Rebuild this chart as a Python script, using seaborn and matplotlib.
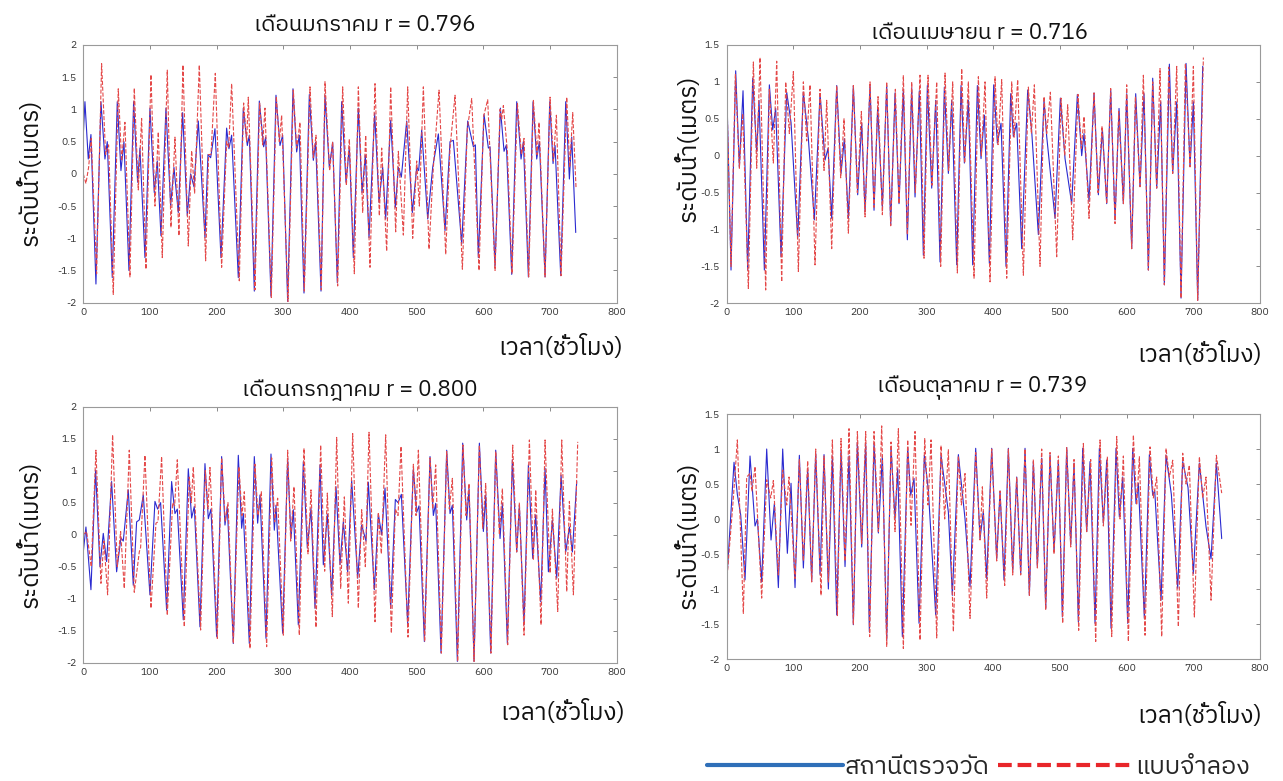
# plot.py - ระดับน้ำจากสถานีตรวจวัดเทียบกับแบบจำลอง (4 เดือน)

import matplotlib
matplotlib.use('Agg')
import matplotlib.pyplot as plt
from matplotlib.lines import Line2D
from matplotlib.ticker import FuncFormatter
from matplotlib import font_manager
import pandas as pd
import seaborn as sns
from fontTools.ttLib import TTFont

# ---------------- ข้อมูล (ชั่วโมง, ระดับน้ำ) อ่านจากกราฟต้นฉบับ ----------------
titles = ['เดือนมกราคม r = 0.796', 'เดือนเมษายน r = 0.716',
          'เดือนกรกฎาคม r = 0.800', 'เดือนตุลาคม r = 0.739']
legend_labels = ['สถานีตรวจวัด', 'แบบจำลอง']
x_label = 'เวลา(ชั่วโมง)'
y_label = 'ระดับน้ำ(เมตร)'
x_ticks = [0, 100, 200, 300, 400, 500, 600, 700, 800]
y_ticks_a = [-2, -1.5, -1, -0.5, 0, 0.5, 1, 1.5, 2]
y_ticks_b = [-2, -1.5, -1, -0.5, 0, 0.5, 1, 1.5]

jan_obs = [(0, 0.6), (2.5, 1.12), (7.5, 0.23), (11.5, 0.61), (19, -1.71), (26.5, 1.12), (32.5, 0.23), (36, 0.5),
           (43.5, -1.61), (51, 1.12), (56.5, 0.05), (61, 0.5), (68.5, -1.5), (75.5, 1.12), (81.5, -0.13), (85, 0.4),
           (92.5, -1.3), (100, 1.02), (106.5, -0.29), (111, 0.2), (116.5, -0.96), (124, 1.02), (131, -0.49),
           (136, 0.1), (142.5, -0.6), (149, 0.95), (156, -0.65), (161, 0.0), (166, -0.2), (172.5, 0.82),
           (182.5, -0.99), (187, 0.3), (191, 0.25), (197.5, 0.7), (206.5, -1.3), (215, 0.71), (218.5, 0.39),
           (222.5, 0.6), (232.5, -1.61), (240, 1.02), (246, 0.44), (249, 0.6), (256.5, -1.82), (264, 1.13),
           (270.5, 0.42), (273.5, 0.57), (281.5, -1.9), (289, 1.22), (295, 0.44), (299, 0.6), (306.5, -1.98),
           (314.5, 1.32), (320, 0.34), (324, 0.6), (331, -1.85), (339, 1.23), (345, 0.21), (348.5, 0.49),
           (356.5, -1.82), (362.5, 1.22), (369, 0.1), (374, 0.49), (381, -1.69), (387.5, 1.12), (394, -0.13),
           (399, 0.42), (405, -1.3), (412.5, 1.02), (418, -0.29), (423, 0.29), (428.5, -0.99), (437, 0.94),
           (443.5, -0.44), (449, 0.1), (453.5, -0.7), (461, 0.83), (468, -0.52), (472.5, 0.1), (477, -0.05),
           (485, 0.82), (493.5, -0.6), (500, 0.1), (503, 0.05), (507.5, 0.68), (516.5, -0.7), (524, 0.1),
           (532.5, 0.62), (542.5, -0.88), (550, 0.5), (555, 0.52), (567.5, -1.09), (576.5, 0.82), (585, 0.42),
           (588, 0.45), (592.5, -1.3), (601, 0.92), (607.5, 0.4), (610, 0.42), (617.5, -1.43), (625.5, 1.02),
           (631, 0.35), (634.5, 0.45), (642.5, -1.56), (650, 1.12), (656.5, 0.23), (660, 0.5), (667.5, -1.6),
           (674.5, 1.12), (680, 0.23), (684, 0.5), (692.5, -1.6), (699.5, 1.12), (704.5, 0.16), (707.5, 0.44),
           (716, -1.58), (723.5, 1.12), (729, -0.08), (732.5, 0.57), (738.5, -0.91)]

jan_mod = [(0, 0.0), (4, -0.15), (8, 0.1), (12, 0.55), (20, -1.55), (27.5, 1.71), (33.5, 0.3), (38, 0.45),
           (45, -1.87), (52.5, 1.32), (57.5, 0.2), (62.5, 0.8), (70, -1.6), (76.5, 1.33), (82.5, -0.25),
           (87.5, 0.86), (94, -1.48), (101.5, 1.54), (107.5, -0.5), (112.5, 0.65), (118.5, -1.3), (126, 1.61),
           (131.5, -0.83), (137.5, 0.57), (143.5, -0.96), (149.5, 1.69), (157.5, -1.12), (162.5, 0.36),
           (167, -0.3), (174, 1.69), (183.5, -1.35), (188, 0.3), (191.5, 0.3), (198, 1.56), (207.5, -1.45),
           (215, 0.5), (218, 0.4), (222.5, 1.4), (234, -1.66), (240.5, 1.1), (245, 0.5), (247.5, 1.19),
           (257.5, -1.8), (264.5, 1.1), (269, 0.45), (272.5, 1.02), (282, -1.92), (289.5, 1.2), (294, 0.5),
           (297.5, 0.91), (307, -1.98), (315, 1.3), (320, 0.4), (325, 0.8), (331.5, -1.82), (340, 1.35),
           (345, 0.25), (349, 0.6), (357, -1.8), (362.5, 1.43), (369.5, 0.05), (374, 0.5), (381.5, -1.74),
           (389, 1.35), (394.5, -0.18), (399, 0.54), (406.5, -1.55), (412.5, 1.35), (419, -0.6), (423.5, 0.6),
           (430, -1.45), (437.5, 1.4), (444, -0.65), (447.5, 0.4), (455, -1.2), (461, 1.35), (468.5, -0.9),
           (472.5, 0.35), (480, -0.95), (486.5, 1.35), (494, -1.0), (500, 0.2), (504, -0.5), (510, 1.35),
           (518.5, -1.17), (525, 0.1), (533.5, 1.3), (543.5, -1.25), (550, 0.4), (557.5, 1.22), (568.5, -1.48),
           (576, 0.7), (582.5, 1.17), (593.5, -1.5), (600.5, 0.9), (606.5, 1.15), (617.5, -1.5), (625, 1.0),
           (627.5, 0.85), (630, 1.06), (636, 0.35), (643, -1.55), (651, 1.1), (657, 0.3), (661, 0.55),
           (668, -1.6), (675, 1.14), (680.5, 0.3), (683.5, 0.8), (692.5, -1.6), (700, 1.19), (705, 0.2),
           (709.5, 0.91), (716.5, -1.58), (725, 1.19), (729.5, 0.1), (734, 0.95), (739, -0.23)]

apr_obs = [(0, 0.96), (6.5, -1.55), (13.5, 1.15), (19, -0.15), (24.5, 0.88), (31.5, -1.55), (39, 1.05),
           (45, 0.05), (48.5, 0.75), (56.5, -1.55), (64, 0.96), (69, 0.35), (73.5, 0.64), (81.5, -1.37),
           (90, 0.86), (96.5, 0.45), (106.5, -1.12), (115, 0.86), (122.5, 0.23), (131.5, -0.87), (140, 0.84),
           (147.5, -0.06), (152, 0.1), (157.5, -0.85), (165, 0.95), (171.5, -0.24), (176.5, 0.23),
           (182.5, -0.85), (190, 0.95), (196.5, -0.53), (202.5, 0.44), (207.5, -0.76), (215, 0.95), (221, -0.74),
           (226.5, 0.66), (233.5, -0.7), (240, 0.95), (246, -0.94), (252.5, 0.85), (258.5, -0.65), (265, 0.9),
           (271, -1.14), (277.5, 0.92), (282.5, -0.56), (289, 0.88), (295, -1.35), (301, 0.95), (307.5, -0.44),
           (313.5, 0.75), (320, -1.44), (326.5, 0.93), (332.5, -0.24), (337.5, 0.75), (345, -1.48),
           (351.5, 0.95), (356.5, -0.1), (362.5, 0.75), (369, -1.48), (376, 0.95), (381.5, -0.04), (386.5, 0.55),
           (394, -1.46), (400.5, 0.96), (406, 0.17), (411.5, 0.44), (419, -1.5), (426, 0.84), (430, 0.26),
           (435, 0.44), (442.5, -1.26), (451.5, 0.89), (457.5, 0.33), (467.5, -1.07), (476, 0.75), (480, 0.26),
           (492.5, -0.85), (500.5, 0.78), (507.5, -0.04), (517.5, -0.65), (526, 0.83), (532.5, 0.0), (536, 0.3),
           (543.5, -0.62), (551, 0.85), (557.5, -0.53), (563.5, 0.37), (570, -0.65), (576, 0.89), (582.5, -0.87),
           (588.5, 0.64), (595, -0.65), (600, 0.84), (607.5, -1.26), (613.5, 0.84), (620, -0.42), (626, 0.84),
           (632.5, -1.55), (639, 1.05), (645, -0.44), (651, 0.73), (656.5, -1.75), (664, 1.24), (669, -0.24),
           (675, 0.73), (681.5, -1.93), (689, 1.25), (695, -0.15), (700, 0.73), (706.5, -1.96), (714, 1.21)]

apr_mod = [(0, 0.9), (6.5, -1.5), (13, 1.1), (19, -0.17), (24, 0.57), (32.5, -1.8), (40, 1.27), (45, -0.17),
           (50, 1.33), (58.5, -1.82), (64, 0.9), (70, -0.1), (75, 1.28), (82.5, -1.71), (88.5, 1.0), (94, 0.3),
           (100, 1.14), (107.5, -1.57), (115, 1.0), (120, 0.2), (125, 0.96), (132.5, -1.48), (140, 0.9),
           (146, -0.2), (150, 0.75), (157.5, -1.26), (165, 0.95), (171, -0.3), (176, 0.5), (182.5, -1.05),
           (190, 0.95), (196, -0.5), (202, 0.6), (207.5, -0.83), (215, 1.0), (221, -0.7), (227, 0.8),
           (233.5, -0.8), (240, 1.0), (246, -0.95), (253, 0.9), (258.5, -0.65), (265, 1.09), (271, -1.07),
           (277.5, 1.0), (283, -0.5), (290, 1.09), (296, -1.39), (302, 1.09), (308, -0.4), (315, 1.0), (321, -1.5),
           (327.5, 1.12), (333, -0.2), (339, 1.0), (346, -1.59), (352.5, 1.18), (357, -0.1), (362.5, 1.0),
           (371, -1.66), (377.5, 1.07), (382, 0.0), (387.5, 1.0), (395, -1.71), (402.5, 1.07), (407, 0.15),
           (412.5, 1.03), (420, -1.66), (427.5, 1.0), (431, 0.25), (436.5, 1.03), (445, -1.62), (452.5, 0.93),
           (457, 0.3), (461.5, 0.96), (470, -1.5), (476, 0.8), (480, 0.3), (485.5, 0.86), (495, -1.37),
           (501.5, 0.78), (507, 0.0), (511.5, 0.69), (519, -1.14), (527, 0.83), (532, 0.1), (536, 0.53),
           (543.5, -0.85), (551, 0.85), (557, -0.5), (563, 0.4), (570, -0.65), (576, 0.91), (582.5, -0.92),
           (588, 0.6), (595, -0.65), (600, 0.96), (607.5, -1.26), (613, 0.8), (620, -0.42), (625, 1.09),
           (632.5, -1.55), (639, 1.0), (645, -0.44), (650, 1.18), (656.5, -1.75), (663, 1.2), (669, -0.24),
           (675, 1.21), (681.5, -1.93), (688, 1.25), (695, -0.15), (700, 1.21), (706.5, -1.96), (715, 1.33)]

jul_obs = [(0, -0.27), (4, 0.12), (11.5, -0.86), (18.5, 1.01), (25, -0.5), (30, 0.02), (35, -0.42), (42.5, 0.83),
           (50, -0.58), (56.5, -0.05), (60, -0.1), (67.5, 0.7), (75, -0.79), (80, 0.2), (84, 0.23), (90, 0.62),
           (100, -0.94), (107.5, 0.52), (111.5, 0.4), (116, 0.5), (125, -1.18), (132.5, 0.83), (137.5, 0.33),
           (141, 0.4), (150, -1.33), (157.5, 1.03), (162.5, 0.26), (166.5, 0.44), (175, -1.44), (182.5, 1.11),
           (187.5, 0.25), (191.5, 0.4), (200, -1.59), (207.5, 1.22), (212.5, 0.15), (216, 0.44), (225, -1.7),
           (232.5, 1.24), (237.5, 0.1), (240, 0.33), (249, -1.7), (256.5, 1.22), (261.5, 0.18), (265, 0.62),
           (274, -1.62), (281.5, 1.26), (286.5, 0.07), (289, 0.46), (299, -1.54), (306.5, 1.19), (311.5, -0.06),
           (315, 0.39), (322.5, -1.41), (330, 1.14), (336, -0.21), (341.5, 0.41), (347.5, -1.15), (355, 1.09),
           (360, -0.47), (366, 0.32), (372.5, -0.94), (379, 0.75), (385, -0.47), (390, 0.2), (396.5, -0.58),
           (402.5, 0.85), (411.5, -0.68), (417.5, 0.15), (424, -0.1), (427.5, 0.82), (436.5, -0.86),
           (442.5, 0.32), (447.5, 0.0), (452.5, 0.73), (461, -1.15), (468, 0.55), (472, 0.5), (477, 0.63),
           (486.5, -1.39), (495, 1.03), (500, 0.35), (503.5, 0.45), (511.5, -1.67), (520, 1.22), (525, 0.3),
           (528.5, 0.49), (536.5, -1.85), (545, 1.32), (550, 0.33), (553.5, 0.46), (561, -1.98), (569, 1.43),
           (575, 0.23), (578.5, 0.72), (586, -1.98), (594, 1.43), (600, 0.05), (603.5, 0.62), (611, -1.85),
           (618.5, 1.32), (625, -0.06), (628.5, 0.49), (636, -1.7), (643.5, 1.17), (650, -0.27), (654, 0.46),
           (661, -1.41), (667.5, 1.09), (674, -0.37), (678.5, 0.31), (686, -1.05), (692.5, 1.04), (697.5, -0.58),
           (703.5, 0.23), (710, -0.68), (716.5, 0.93), (723.5, -0.27), (729, 0.12), (733.5, -0.27), (740, 0.83)]

jul_mod = [(0, 0.0), (5, 0.05), (12, -0.5), (19, 1.32), (26.5, -0.76), (31, -0.1), (36.5, -0.94), (44, 1.56),
           (51, -0.5), (56, 0.05), (61.5, -0.84), (69, 1.32), (76.5, -0.9), (84, -0.27), (86, -0.2), (92.5, 1.24),
           (101.5, -1.15), (109, 0.18), (112, 0.2), (117.5, 1.22), (126, -1.26), (134, 0.5), (137, 0.45),
           (141, 1.17), (151.5, -1.44), (159, 0.9), (162, 0.5), (165, 1.06), (176, -1.49), (183, 1.0), (187, 0.4),
           (190, 1.05), (201, -1.62), (207.5, 1.2), (213, 0.2), (217, 0.5), (225, -1.7), (233.5, 1.06), (238, 0.3),
           (241.5, 0.67), (250, -1.78), (257.5, 1.1), (262, 0.3), (267, 0.67), (275, -1.75), (282.5, 1.2),
           (287, 0.2), (291.5, 0.57), (300, -1.57), (306.5, 1.32), (311, -0.1), (316, 0.75), (324, -1.57),
           (331, 1.35), (337, -0.3), (341.5, 0.7), (349, -1.45), (356, 1.4), (362, -0.57), (366, 0.65),
           (373.5, -1.28), (380, 1.52), (386, -0.84), (391.5, 0.59), (397.5, -1.07), (404, 1.58), (412.5, -1.15),
           (417.5, 0.39), (423, -0.5), (428.5, 1.6), (437.5, -1.36), (442.5, 0.35), (447, -0.3), (453.5, 1.56),
           (462, -1.54), (468, 0.4), (472, 0.3), (476.5, 1.38), (487, -1.6), (495, 1.1), (499, 0.3), (502.5, 1.32),
           (512, -1.67), (520, 1.2), (524, 0.4), (528.5, 1.09), (537, -1.85), (545, 1.3), (549, 0.4), (553.5, 0.88),
           (561.5, -1.98), (569.5, 1.4), (574, 0.3), (578.5, 0.8), (586, -1.98), (594, 1.4), (599, 0.1),
           (603.5, 0.8), (611.5, -1.85), (618.5, 1.3), (624, 0.0), (628.5, 0.72), (636.5, -1.72), (644, 1.4),
           (650, -0.27), (654, 0.5), (661, -1.57), (669, 1.48), (675, -0.4), (678.5, 0.7), (686.5, -1.41),
           (692.5, 1.48), (700, -0.6), (703.5, 0.4), (711.5, -1.2), (717.5, 1.48), (725, -0.89), (729, 0.52),
           (735, -0.94), (741.5, 1.45)]

oct_obs = [(0, -0.9), (11, 0.81), (16, 0.35), (21, 0.06), (27.5, -0.87), (35, 0.9), (42.5, -0.1), (46, 0.0),
           (52.5, -0.9), (60, 1.0), (66.5, -0.3), (71.5, 0.22), (77.5, -0.98), (84, 1.0), (91, -0.49), (96.5, 0.51),
           (102.5, -0.98), (109, 0.91), (115, -0.7), (121.5, 0.72), (127.5, -0.89), (133.5, 0.94), (140, -0.79),
           (146, 0.92), (152.5, -1.0), (158.5, 0.9), (165, -1.37), (171.5, 0.98), (177.5, -0.68), (183.5, 0.9),
           (190, -1.51), (196, 1.1), (202.5, -0.4), (208.5, 1.08), (214, -1.61), (221, 1.08), (227.5, -0.2),
           (233.5, 0.9), (240, -1.73), (246.5, 1.02), (252.5, 0.0), (256.5, 0.72), (263.5, -1.68), (271.5, 1.02),
           (276, 0.34), (281, 0.58), (288.5, -1.49), (296.5, 0.91), (302.5, 0.41), (313.5, -1.37), (321.5, 0.91),
           (332.5, 0.1), (338.5, -1.09), (347.5, 0.92), (357.5, 0.0), (365, -0.97), (373.5, 1.01), (380, -0.28),
           (385, 0.11), (390, -0.85), (397.5, 1.01), (405, -0.57), (410, 0.4), (416, -0.87), (422.5, 1.01),
           (429, -0.75), (435, 0.6), (441, -0.78), (447.5, 1.01), (454, -1.09), (460, 0.82), (466, -0.68),
           (472.5, 0.87), (478.5, -1.28), (485, 0.91), (491, -0.47), (497.5, 0.84), (503.5, -1.4), (510, 1.02),
           (516, -0.37), (521, 0.8), (527.5, -1.47), (534, 1.01), (540, -0.18), (545, 0.82), (552.5, -1.49),
           (559, 1.01), (565, -0.06), (570, 0.84), (576.5, -1.56), (584, 1.01), (589, 0.03), (594, 0.6),
           (601.5, -1.49), (609, 1.01), (614, 0.22), (617.5, 0.51), (626.5, -1.42), (634, 0.92), (639, 0.34),
           (642, 0.41), (651.5, -1.16), (659, 0.91), (667, 0.35), (676.5, -0.99), (684, 0.82), (692, 0.45),
           (700, -0.78), (709, 0.8), (719, -0.11), (726.5, -0.57), (734.5, 0.8), (742.5, -0.28)]

oct_mod = [(0, -0.9), (5, -0.3), (10, 0.3), (16, 1.13), (25, -1.35), (30, 0.6), (35, 0.65), (38, 0.4),
           (42.5, 0.75), (52.5, -1.13), (60, 0.56), (66, 0.3), (70, 0.55), (77.5, -0.8), (84, 0.7), (90, 0.2),
           (93.5, 0.6), (102.5, -0.85), (109, 0.85), (115, -0.6), (121.5, 0.83), (127.5, -0.9), (133.5, 1.0),
           (141.5, -1.09), (146, 0.9), (152.5, -0.9), (158.5, 1.13), (166, -1.38), (171.5, 1.15), (177.5, -0.6),
           (183.5, 1.29), (190, -1.51), (196, 1.25), (202.5, -0.35), (208.5, 1.25), (214.5, -1.68), (221, 1.25),
           (227.5, -0.18), (232.5, 1.33), (240, -1.82), (246.5, 1.1), (252.5, -0.18), (257.5, 1.29), (265, -1.85),
           (271.5, 1.13), (276.5, -0.09), (282.5, 1.25), (290, -1.73), (297, 1.15), (302, 0.2), (306.5, 1.13),
           (315, -1.7), (321.5, 1.05), (327, 0.0), (332.5, 0.99), (340, -1.61), (347.5, 0.9), (352, 0.2),
           (357.5, 0.65), (365, -1.42), (373.5, 0.95), (380, -0.3), (383.5, 0.46), (390, -1.13), (397.5, 1.0),
           (405, -0.6), (410, 0.4), (417, -0.95), (422.5, 1.0), (429, -0.8), (435, 0.6), (441, -0.8), (447.5, 1.0),
           (454, -1.09), (460, 0.85), (466, -0.7), (472.5, 1.0), (478.5, -1.3), (485, 0.95), (491, -0.5),
           (497.5, 0.9), (504, -1.49), (510, 1.02), (516, -0.4), (521, 0.85), (528, -1.59), (535, 1.08),
           (540, -0.18), (546, 0.85), (553.5, -1.75), (560, 1.13), (565, -0.1), (571, 0.89), (577.5, -1.68),
           (585, 1.18), (590, 0.0), (595, 0.9), (602.5, -1.75), (610, 1.2), (615, 0.2), (619, 0.89),
           (627.5, -1.66), (635, 1.03), (640, 0.3), (645, 0.6), (652.5, -1.68), (659, 1.01), (664, 0.6),
           (669, 0.84), (677.5, -1.54), (684, 0.94), (689, 0.5), (694, 0.77), (701.5, -1.4), (709, 0.89),
           (714, 0.3), (719, 0.6), (726.5, -1.16), (734.5, 0.91), (742.5, 0.37)]

OBS_COLOR = '#2a2ad0'
MOD_COLOR = '#e44848'


def find_thai_font():
    """หาฟอนต์ที่มีอักษรไทย"""
    found = []
    for f in font_manager.fontManager.ttflist:
        try:
            tt = TTFont(f.fname, fontNumber=0, lazy=True)
            cmap = tt.getBestCmap()
            if cmap and 0x0E01 in cmap:
                found.append(f.name)
        except Exception:
            continue
    for name in found:
        if 'Thai' in name:
            return name
    return found[0] if found else 'DejaVu Sans'


sns.set_theme(style='white')
thai_font = find_thai_font()
plt.rcParams['font.family'] = [thai_font, 'DejaVu Sans']
plt.rcParams['axes.unicode_minus'] = False


def draw_panel(ax, obs, mod, title, yticks, title_xy, xlabel_xy, ylabel_xy):
    df_obs = pd.DataFrame(obs, columns=['hour', 'level'])
    df_mod = pd.DataFrame(mod, columns=['hour', 'level'])
    sns.lineplot(data=df_obs, x='hour', y='level', ax=ax, color=OBS_COLOR,
                 linewidth=0.8, estimator=None, sort=False)
    sns.lineplot(data=df_mod, x='hour', y='level', ax=ax, color=MOD_COLOR,
                 linewidth=0.8, linestyle='--', estimator=None, sort=False)

    ax.set_xlim(0, 800)
    ax.set_ylim(yticks[0], yticks[-1])
    ax.set_xticks(x_ticks)
    ax.set_yticks(yticks)
    ax.yaxis.set_major_formatter(FuncFormatter(lambda v, p: f'{v:g}'))
    ax.tick_params(direction='in', top=True, right=True, length=3, width=0.6,
                   colors='#777777', labelcolor='#333333', labelsize=7.5)
    ax.tick_params(axis='y', pad=5)
    for s in ax.spines.values():
        s.set_color('#9a9a9a')
        s.set_linewidth(0.8)

    ax.set_xlabel('')
    ax.set_ylabel('')
    ax.text(title_xy[0], title_xy[1], title, transform=ax.transAxes,
            ha='center', va='center', fontsize=16, color='#111111')
    ax.text(xlabel_xy[0], xlabel_xy[1], x_label, transform=ax.transAxes,
            ha='right', va='center', fontsize=17.5, color='#111111')
    ax.text(ylabel_xy[0], ylabel_xy[1], y_label, transform=ax.transAxes,
            ha='center', va='center', rotation=90, fontsize=17.5, color='#111111')


fig = plt.figure(figsize=(12.83, 7.81), dpi=100)

ax1 = fig.add_axes([0.0649, 0.6124, 0.4158, 0.3300])
ax2 = fig.add_axes([0.5664, 0.6117, 0.4157, 0.3307])
ax3 = fig.add_axes([0.0649, 0.1515, 0.4158, 0.3278])
ax4 = fig.add_axes([0.5664, 0.1562, 0.4157, 0.3137])

draw_panel(ax1, jan_obs, jan_mod, titles[0], y_ticks_a, (0.528, 1.078), (1.012, -0.175), (-0.10, 0.506))
draw_panel(ax2, apr_obs, apr_mod, titles[1], y_ticks_b, (0.475, 1.046), (1.004, -0.20), (-0.073, 0.60))
draw_panel(ax3, jul_obs, jul_mod, titles[2], y_ticks_a, (0.518, 1.065), (1.016, -0.193), (-0.10, 0.50))
draw_panel(ax4, oct_obs, oct_mod, titles[3], y_ticks_b, (0.479, 1.106), (1.004, -0.229), (-0.073, 0.506))

# คำอธิบายสัญลักษณ์ด้านล่าง
handles = [Line2D([], [], color='#2f6fb8', linewidth=3),
           Line2D([], [], color='#e8262a', linewidth=3, linestyle=(0, (3.3, 1.4)))]
fig.legend(handles, legend_labels, loc='center left', bbox_to_anchor=(0.551, 0.017),
           ncol=2, frameon=False, fontsize=18, handlelength=5.45, handletextpad=0.05,
           columnspacing=0.35, borderpad=0, borderaxespad=0)

plt.savefig('out.png', dpi=100)
